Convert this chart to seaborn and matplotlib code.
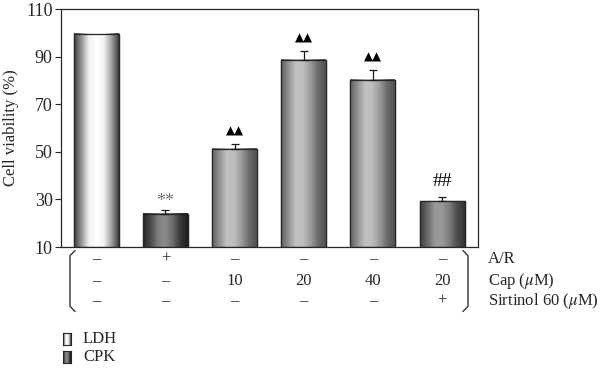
import numpy as np
import pandas as pd
import matplotlib
matplotlib.use("Agg")
import matplotlib.pyplot as plt
import seaborn as sns
from matplotlib.colors import LinearSegmentedColormap
from matplotlib.transforms import blended_transform_factory

# data
groups = ["g1", "g2", "g3", "g4", "g5", "g6"]
viability = [99.5, 24.0, 51.2, 88.6, 80.2, 29.3]
sem = [0.0, 1.6, 2.0, 3.9, 4.0, 1.7]
marks = ["", "**", "\u25b2\u25b2", "\u25b2\u25b2", "\u25b2\u25b2", "##"]
row_ar = ["\u2013", "+", "\u2013", "\u2013", "\u2013", "\u2013"]
row_cap = ["\u2013", "\u2013", "10", "20", "40", "20"]
row_sirt = ["\u2013", "\u2013", "\u2013", "\u2013", "\u2013", "+"]
row_names = ["A/R", r"Cap ($\mu$M)", r"Sirtinol 60 ($\mu$M)"]
legend_names = ["LDH", "CPK"]

# gray profiles across a bar (left -> right)
shades = {
    "ldh": [0.25, 0.6, 0.95, 1.0, 0.95, 0.65, 0.25],
    "dark": [0.15, 0.3, 0.5, 0.55, 0.42, 0.22, 0.12],
    "mid": [0.38, 0.58, 0.76, 0.74, 0.6, 0.42, 0.32],
    "dark2": [0.25, 0.42, 0.6, 0.6, 0.48, 0.3, 0.2],
}
bar_shade = ["ldh", "dark", "mid", "mid", "mid", "dark2"]

sns.set_style("ticks")
plt.rcParams["font.family"] = ["Liberation Serif", "DejaVu Sans"]
plt.rcParams["mathtext.fontset"] = "stix"

df = pd.DataFrame({"group": groups, "viability": viability})

fig = plt.figure(figsize=(6, 3.71), dpi=100)
ax = fig.add_axes([61 / 600, 1 - 247 / 371, 417 / 600, 238 / 371])

sns.barplot(data=df, x="group", y="viability", color="0.5", width=0.65,
            edgecolor="0.15", linewidth=0.9, ax=ax)

ybase = 10


def cmap_for(name):
    return LinearSegmentedColormap.from_list(name, [str(v) for v in shades[name]])


grad = np.linspace(0, 1, 64).reshape(1, -1)
for patch, shade in zip(ax.patches, bar_shade):
    x0 = patch.get_x()
    w = patch.get_width()
    h = patch.get_height()
    ax.imshow(grad, cmap=cmap_for(shade), aspect="auto",
              extent=[x0, x0 + w, ybase, h], zorder=patch.get_zorder() + 0.1)
    outline = plt.Rectangle((x0, ybase), w, h - ybase, fill=False,
                            edgecolor="0.15", linewidth=0.9,
                            zorder=patch.get_zorder() + 0.2)
    ax.add_patch(outline)

xs = np.arange(len(groups))
ax.errorbar(xs[1:], viability[1:], yerr=[np.zeros(5), sem[1:]], fmt="none",
            ecolor="0.1", elinewidth=0.9, capsize=3, capthick=0.9, zorder=5)

for x, v, e, m in zip(xs, viability, sem, marks):
    if not m:
        continue
    if m.startswith("\u25b2"):
        ax.text(x, v + e + 5.5, m, ha="center", va="center", fontsize=8.5,
                family="DejaVu Sans", color="black")
    elif m == "##":
        ax.text(x, v + e + 6.5, m, ha="center", va="center", fontsize=14,
                color="black")
    else:
        ax.text(x, v + e + 3.5, m, ha="center", va="center", fontsize=13,
                color="0.45")

ax.set_xlim(-0.51, 5.52)
ax.set_ylim(10, 110)
ax.set_yticks([10, 30, 50, 70, 90, 110])
ax.set_xticks([])
ax.set_xlabel("")
ax.set_ylabel("Cell viability (%)", fontsize=12, labelpad=5)
ax.tick_params(axis="y", labelsize=13, length=4, width=0.8, direction="out",
               pad=2)
for s in ax.spines.values():
    s.set_linewidth(0.9)
    s.set_color("0.15")

# treatment table under the axis
tr = blended_transform_factory(ax.transData, fig.transFigure)
row_y = [1 - 259 / 371, 1 - 281 / 371, 1 - 301 / 371]
for yy, row in zip(row_y, [row_ar, row_cap, row_sirt]):
    for x, s in zip(xs, row):
        ax.text(x, yy, s, transform=tr, ha="center", va="center",
                fontsize=12, color="0.15")
for yy, name in zip(row_y, row_names):
    fig.text(488 / 600, yy, name, ha="left", va="center", fontsize=12,
             color="0.15")

# brackets
top, bot = 1 - 252 / 371, 1 - 310 / 371
hook = 5 / 600
for xb, d in [(70 / 600, 1), (468 / 600, -1)]:
    fig.add_artist(plt.Line2D([xb + d * hook, xb, xb, xb + d * hook],
                              [top + 0.004, top - 0.01, bot + 0.01, bot - 0.004],
                              color="0.2", linewidth=1.0))

# legend boxes
for i, (name, shade) in enumerate(zip(legend_names, ["ldh", "dark"])):
    ytop = 333 + i * 18
    lax = fig.add_axes([63 / 600, 1 - (ytop + 12) / 371, 8 / 600, 12 / 371])
    lax.imshow(grad, cmap=cmap_for(shade), aspect="auto")
    lax.set_xticks([])
    lax.set_yticks([])
    for s in lax.spines.values():
        s.set_linewidth(0.8)
        s.set_color("0.15")
    fig.text(83 / 600, 1 - (ytop + 6) / 371, name, ha="left", va="center",
             fontsize=12, color="0.15")

plt.savefig("out.png", dpi=100)
